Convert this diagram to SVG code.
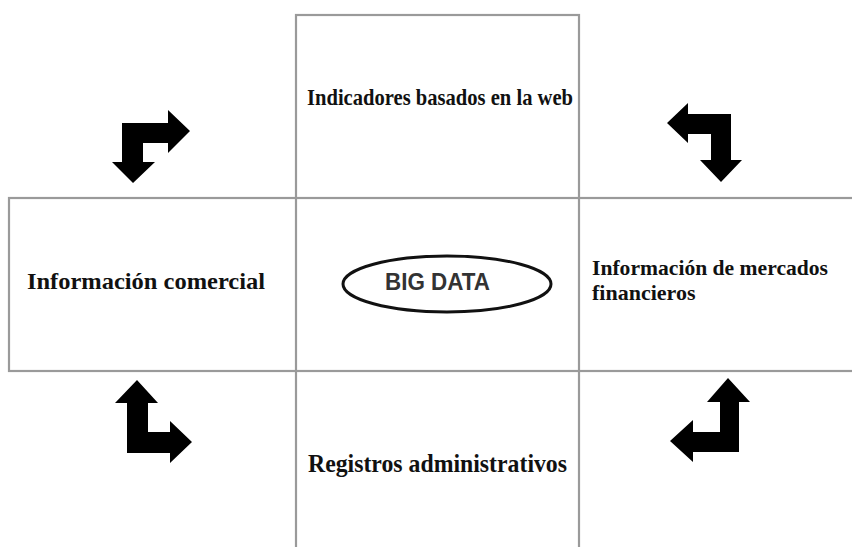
<svg xmlns="http://www.w3.org/2000/svg" width="852" height="547" viewBox="0 0 852 547">
<style>
.box{fill:none;stroke:#9a9a9a;stroke-width:2.2}
.lbl{font-family:"Liberation Serif","Times New Roman",serif;font-weight:bold;fill:#111}
.sans{font-family:"Liberation Sans",Arial,sans-serif;font-weight:bold;fill:#333}
.arr{fill:#000}
</style>
<rect width="852" height="547" fill="#fff"/>
<g id="frame">
<rect class="box" x="296" y="15" width="283" height="540"/>
<rect class="box" x="9" y="198" width="850" height="173"/>
</g>
<g id="web"><text class="lbl" x="307" y="105" font-size="23" textLength="266" lengthAdjust="spacingAndGlyphs">Indicadores basados en la web</text></g>
<g id="comercial"><text class="lbl" x="27" y="289" font-size="24" textLength="238" lengthAdjust="spacingAndGlyphs">Información comercial</text></g>
<g id="financieros"><text class="lbl" x="592" y="275" font-size="22" textLength="236" lengthAdjust="spacingAndGlyphs">Información de mercados</text><text class="lbl" x="592" y="300" font-size="22">financieros</text></g>
<g id="registros"><text class="lbl" x="308" y="472" font-size="24.5" textLength="259" lengthAdjust="spacingAndGlyphs">Registros administrativos</text></g>
<g id="bigdata">
<ellipse cx="447" cy="284" rx="104" ry="28" fill="none" stroke="#111" stroke-width="3"/>
<text class="sans" x="385" y="290" font-size="23" textLength="105" lengthAdjust="spacingAndGlyphs">BIG DATA</text>
</g>
<g id="connectors">
<path class="arr" d="M122,123 L168,123 L168,110 L190,131 L168,153 L168,143 L143,143 L143,162 L155,162 L133,183 L112,162 L122,162 Z"/>
<path class="arr" d="M667,123 L688,103 L688,114 L731,114 L731,160 L742,160 L721,182 L700,160 L711,160 L711,134 L688,134 L688,143 Z"/>
<path class="arr" d="M137,380 L158,403 L148,403 L148,432 L170,432 L170,421 L192,442 L170,463 L170,453 L127,453 L127,403 L115,403 Z"/>
<path class="arr" d="M728,378 L750,402 L739,402 L739,452 L693,452 L693,462 L670,441 L693,420 L693,432 L720,432 L720,402 L707,402 Z"/>
</g>
</svg>
